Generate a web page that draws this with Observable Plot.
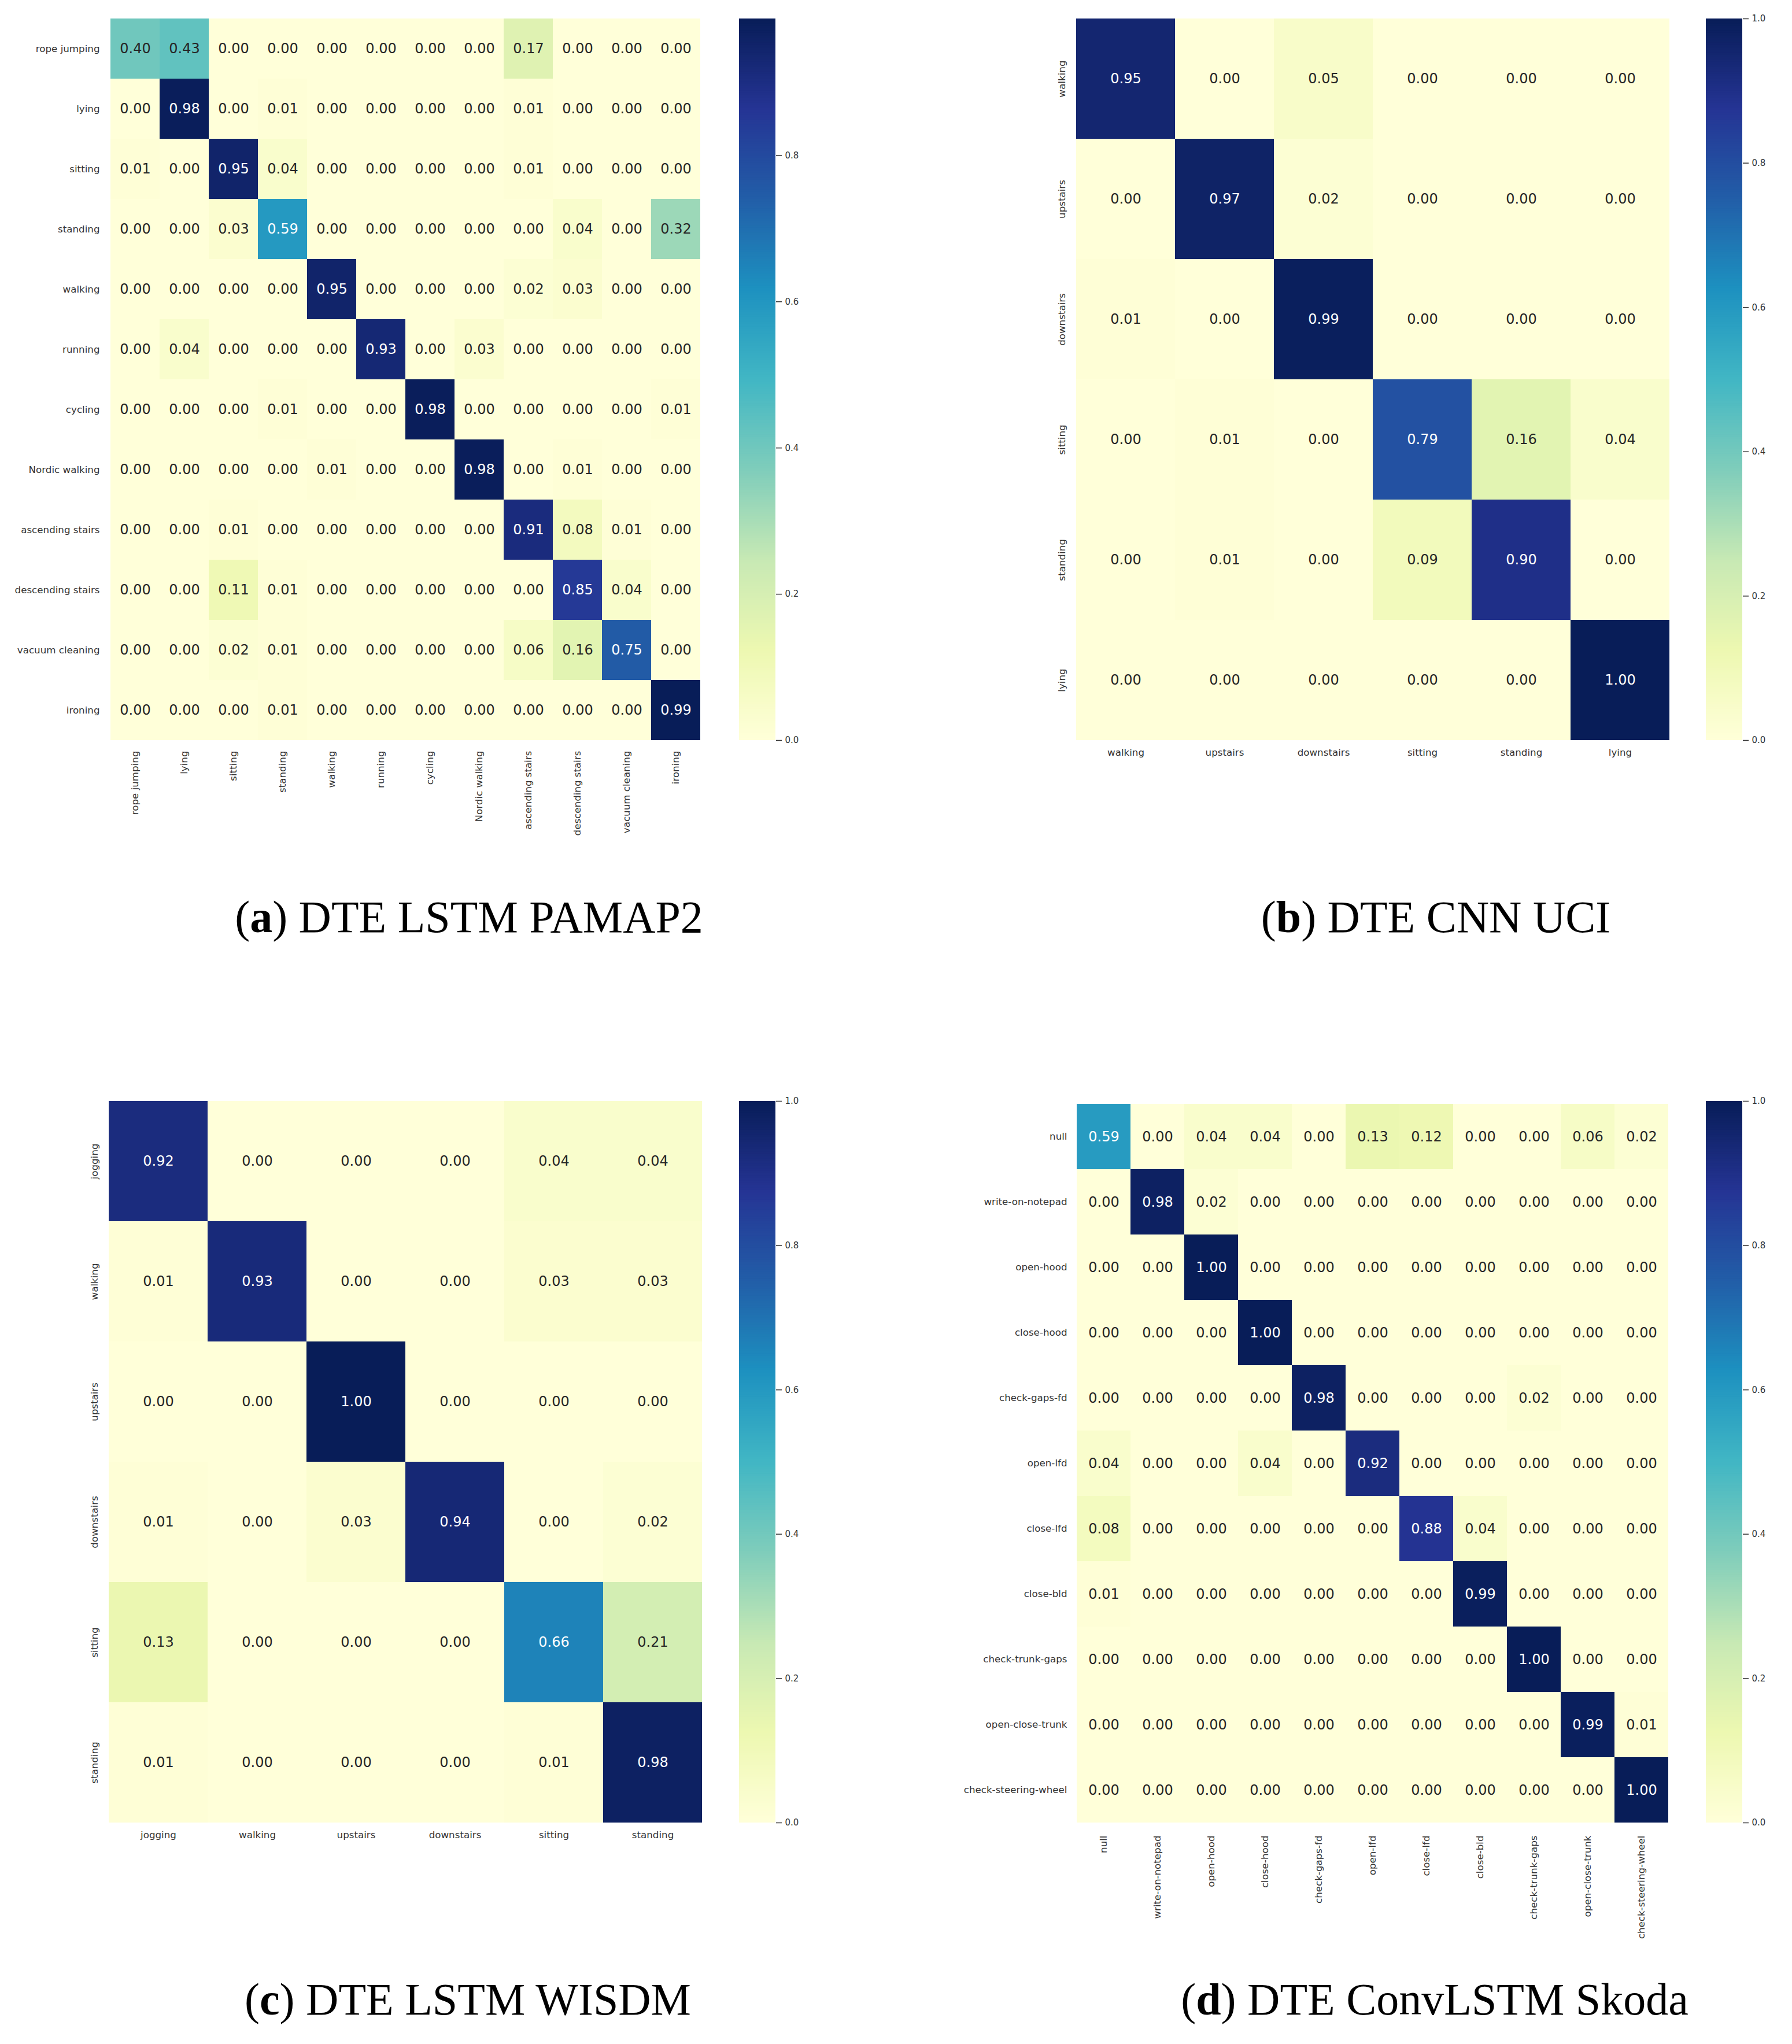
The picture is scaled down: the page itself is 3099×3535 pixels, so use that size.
<!DOCTYPE html>
<html><head><meta charset="utf-8">
<script src="https://cdn.jsdelivr.net/npm/d3@7"></script>
<script src="https://cdn.jsdelivr.net/npm/@observablehq/plot@0.6"></script>
<style>
html,body{margin:0;padding:0;background:#fff;}
#root{position:relative;width:3099px;height:3535px;background:#fff;overflow:hidden;}
.panel{position:absolute;}
.cap{position:absolute;width:1400px;text-align:center;font-family:"Liberation Serif","Times New Roman",serif;font-size:78px;line-height:78px;color:#000;white-space:nowrap;}
</style></head><body><div id="root"></div>
<script>
// ---------- data ----------
const pamapLabels = ["rope jumping","lying","sitting","standing","walking","running","cycling","Nordic walking","ascending stairs","descending stairs","vacuum cleaning","ironing"];
const pamapValues = [
  [0.40,0.43,0.00,0.00,0.00,0.00,0.00,0.00,0.17,0.00,0.00,0.00],
  [0.00,0.98,0.00,0.01,0.00,0.00,0.00,0.00,0.01,0.00,0.00,0.00],
  [0.01,0.00,0.95,0.04,0.00,0.00,0.00,0.00,0.01,0.00,0.00,0.00],
  [0.00,0.00,0.03,0.59,0.00,0.00,0.00,0.00,0.00,0.04,0.00,0.32],
  [0.00,0.00,0.00,0.00,0.95,0.00,0.00,0.00,0.02,0.03,0.00,0.00],
  [0.00,0.04,0.00,0.00,0.00,0.93,0.00,0.03,0.00,0.00,0.00,0.00],
  [0.00,0.00,0.00,0.01,0.00,0.00,0.98,0.00,0.00,0.00,0.00,0.01],
  [0.00,0.00,0.00,0.00,0.01,0.00,0.00,0.98,0.00,0.01,0.00,0.00],
  [0.00,0.00,0.01,0.00,0.00,0.00,0.00,0.00,0.91,0.08,0.01,0.00],
  [0.00,0.00,0.11,0.01,0.00,0.00,0.00,0.00,0.00,0.85,0.04,0.00],
  [0.00,0.00,0.02,0.01,0.00,0.00,0.00,0.00,0.06,0.16,0.75,0.00],
  [0.00,0.00,0.00,0.01,0.00,0.00,0.00,0.00,0.00,0.00,0.00,0.99]
];
const pamapMax = 0.987;
const pamapTicks = [0.0,0.2,0.4,0.6,0.8];

const uciLabels = ["walking","upstairs","downstairs","sitting","standing","lying"];
const uciValues = [
  [0.95,0.00,0.05,0.00,0.00,0.00],
  [0.00,0.97,0.02,0.00,0.00,0.00],
  [0.01,0.00,0.99,0.00,0.00,0.00],
  [0.00,0.01,0.00,0.79,0.16,0.04],
  [0.00,0.01,0.00,0.09,0.90,0.00],
  [0.00,0.00,0.00,0.00,0.00,1.00]
];
const uciMax = 1.0;

const wisdmLabels = ["jogging","walking","upstairs","downstairs","sitting","standing"];
const wisdmValues = [
  [0.92,0.00,0.00,0.00,0.04,0.04],
  [0.01,0.93,0.00,0.00,0.03,0.03],
  [0.00,0.00,1.00,0.00,0.00,0.00],
  [0.01,0.00,0.03,0.94,0.00,0.02],
  [0.13,0.00,0.00,0.00,0.66,0.21],
  [0.01,0.00,0.00,0.00,0.01,0.98]
];
const wisdmMax = 1.0;

const skodaLabels = ["null","write-on-notepad","open-hood","close-hood","check-gaps-fd","open-lfd","close-lfd","close-bld","check-trunk-gaps","open-close-trunk","check-steering-wheel"];
const skodaValues = [
  [0.59,0.00,0.04,0.04,0.00,0.13,0.12,0.00,0.00,0.06,0.02],
  [0.00,0.98,0.02,0.00,0.00,0.00,0.00,0.00,0.00,0.00,0.00],
  [0.00,0.00,1.00,0.00,0.00,0.00,0.00,0.00,0.00,0.00,0.00],
  [0.00,0.00,0.00,1.00,0.00,0.00,0.00,0.00,0.00,0.00,0.00],
  [0.00,0.00,0.00,0.00,0.98,0.00,0.00,0.00,0.02,0.00,0.00],
  [0.04,0.00,0.00,0.04,0.00,0.92,0.00,0.00,0.00,0.00,0.00],
  [0.08,0.00,0.00,0.00,0.00,0.00,0.88,0.04,0.00,0.00,0.00],
  [0.01,0.00,0.00,0.00,0.00,0.00,0.00,0.99,0.00,0.00,0.00],
  [0.00,0.00,0.00,0.00,0.00,0.00,0.00,0.00,1.00,0.00,0.00],
  [0.00,0.00,0.00,0.00,0.00,0.00,0.00,0.00,0.00,0.99,0.01],
  [0.00,0.00,0.00,0.00,0.00,0.00,0.00,0.00,0.00,0.00,1.00]
];
const skodaMax = 1.0;
const fullTicks = [0.0,0.2,0.4,0.6,0.8,1.0];

const captions = [
  {tag:"a", text:" DTE LSTM PAMAP2"},
  {tag:"b", text:" DTE CNN UCI"},
  {tag:"c", text:" DTE LSTM WISDM"},
  {tag:"d", text:" DTE ConvLSTM Skoda"}
];

const ylgnbu = ["#ffffd9","#edf8b1","#c7e9b4","#7fcdbb","#41b6c4","#1d91c0","#225ea8","#253494","#081d58"];

// ---------- helpers ----------
const root = document.getElementById("root");
function colorOpts(vmax) {
  return {type: "linear", domain: ylgnbu.map((_, i) => i * vmax / 8), range: ylgnbu, interpolate: "rgb", clamp: true};
}
function luminance(c) {
  const rgb = d3.rgb(c);
  const f = v => { v /= 255; return v <= 0.03928 ? v / 12.92 : Math.pow((v + 0.055) / 1.055, 2.4); };
  return 0.2126 * f(rgb.r) + 0.7152 * f(rgb.g) + 0.0722 * f(rgb.b);
}
function place(node, left, top) {
  node.classList.add("panel");
  node.style.left = left + "px";
  node.style.top = top + "px";
  root.appendChild(node);
}

function heatmap({labels, values, vmax, left, top, mLeft, mTop, w, h, mBottom, xRot, yRot}) {
  const data = [];
  values.forEach((row, i) => row.forEach((v, j) => data.push({t: labels[i], p: labels[j], v})));
  const cscale = Plot.scale({color: colorOpts(vmax)});
  data.forEach(d => { d.dark = luminance(cscale.apply(d.v)) > 0.408; });
  const fmt = d3.format(".2f");
  const marks = [
    Plot.cell(data, {x: "p", y: "t", fill: "v", inset: 0}),
    Plot.text(data, {x: "p", y: "t", text: d => fmt(d.v), filter: d => d.dark, fill: "#262626", fontSize: 24}),
    Plot.text(data, {x: "p", y: "t", text: d => fmt(d.v), filter: d => !d.dark, fill: "#ffffff", fontSize: 24}),
    xRot
      ? Plot.axisX({anchor: "bottom", tickSize: 0, tickPadding: 18, tickRotate: -90, textAnchor: "end", lineAnchor: "middle", fontSize: 16.7})
      : Plot.axisX({anchor: "bottom", tickSize: 0, tickPadding: 15, fontSize: 16.7}),
    yRot
      ? Plot.axisY({anchor: "left", tickSize: 0, tickPadding: 19, tickRotate: -90, textAnchor: "middle", lineAnchor: "bottom", fontSize: 16.7})
      : Plot.axisY({anchor: "left", tickSize: 0, tickPadding: 15, fontSize: 16.7})
  ];
  const svg = Plot.plot({
    width: mLeft + w + 10,
    height: mTop + h + mBottom,
    marginLeft: mLeft, marginTop: mTop, marginRight: 10, marginBottom: mBottom,
    style: {fontFamily: "DejaVu Sans, sans-serif", fontSize: "16.7px", color: "#333", background: "transparent"},
    x: {type: "band", domain: labels, padding: 0, label: null, axis: null},
    y: {type: "band", domain: labels, padding: 0, label: null, axis: null},
    color: colorOpts(vmax),
    marks
  });
  place(svg, left, top);
}

function colorbar({vmax, ticks, left, top, h}) {
  const n = 300;
  const steps = d3.range(n).map(i => ({lo: i * vmax / n, hi: Math.min(vmax, (i + 1.6) * vmax / n), mid: (i + 0.5) * vmax / n}));
  const svg = Plot.plot({
    width: 63 + 70, height: h + 20,
    marginLeft: 0, marginRight: 70, marginTop: 10, marginBottom: 10,
    style: {fontFamily: "DejaVu Sans, sans-serif", fontSize: "15px", color: "#333", background: "transparent"},
    x: {domain: [0, 1], axis: null},
    y: {domain: [0, vmax], axis: null},
    color: colorOpts(vmax),
    marks: [
      Plot.rect(steps, {x1: 0, x2: 1, y1: "lo", y2: "hi", fill: "mid"}),
      Plot.axisY({anchor: "right", ticks, tickFormat: ".1f", tickSize: 10, tickPadding: 6, strokeWidth: 1.5, fontSize: 15, label: null})
    ]
  });
  place(svg, left, top);
}

function caption(c, cx, baseline) {
  const div = document.createElement("div");
  div.className = "cap";
  div.style.left = (cx - 700) + "px";
  div.style.top = (baseline - 65) + "px";
  div.innerHTML = "(<b>" + c.tag + "</b>)" + c.text;
  root.appendChild(div);
}

// ---------- panels ----------
heatmap({labels: pamapLabels, values: pamapValues, vmax: pamapMax, left: 0, top: 0, mLeft: 187, mTop: 32, w: 1028, h: 1248, mBottom: 260, xRot: true, yRot: false});
colorbar({vmax: pamapMax, ticks: pamapTicks, left: 1278, top: 22, h: 1248});

heatmap({labels: uciLabels, values: uciValues, vmax: uciMax, left: 1660, top: 0, mLeft: 200, mTop: 32, w: 1027, h: 1248, mBottom: 80, xRot: false, yRot: true});
colorbar({vmax: uciMax, ticks: fullTicks, left: 2950, top: 22, h: 1248});

heatmap({labels: wisdmLabels, values: wisdmValues, vmax: wisdmMax, left: 0, top: 1872, mLeft: 187, mTop: 32, w: 1028, h: 1248, mBottom: 80, xRot: false, yRot: true});
colorbar({vmax: wisdmMax, ticks: fullTicks, left: 1278, top: 1894, h: 1248});

heatmap({labels: skodaLabels, values: skodaValues, vmax: skodaMax, left: 1660, top: 1872, mLeft: 200, mTop: 32, w: 1027, h: 1252, mBottom: 260, xRot: true, yRot: false});
colorbar({vmax: skodaMax, ticks: fullTicks, left: 2950, top: 1894, h: 1248});

caption(captions[0], 811, 1612);
caption(captions[1], 2483, 1612);
caption(captions[2], 809, 3484);
caption(captions[3], 2481, 3484);
</script>
</body></html>
